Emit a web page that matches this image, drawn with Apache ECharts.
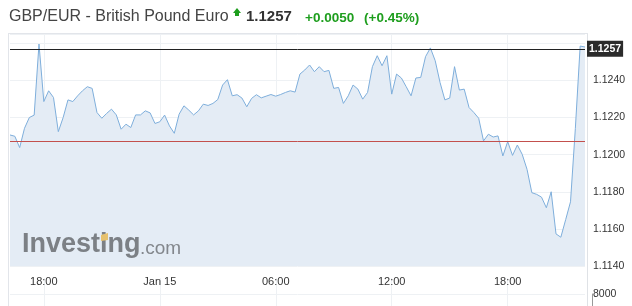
<!DOCTYPE html>
<html><head><meta charset="utf-8">
<script src="https://cdn.jsdelivr.net/npm/echarts@6/dist/echarts.min.js"></script>
<style>html,body{margin:0;padding:0;background:#fff}#c{width:632px;height:306px}</style>
</head><body><div id="c"></div>
<script>
// ---- data ----
const title = 'GBP/EUR - British Pound Euro';
const lastText = '1.1257';
const changeText = '+0.0050';
const changePctText = '(+0.45%)';
const lastPrice = 1.1257;
const prevClose = 1.1207;

// 15-minute bars, Jan 14 16:15 -> Jan 15 22:00
const categories = [];
(function(){
  let day = 'Jan 14', h = 16, m = 15;
  for (let i = 0; i < 120; i++) {
    categories.push(day + ' ' + String(h).padStart(2,'0') + ':' + String(m).padStart(2,'0'));
    m += 15; if (m === 60) { m = 0; h += 1; if (h === 24) { h = 0; day = 'Jan 15'; } }
  }
})();

const prices = [
  1.12106,1.12099,1.12038,1.12142,1.12200,1.12213,1.12596,1.12286,1.12344,1.12308,
  1.12124,1.12200,1.12295,1.12286,1.12317,1.12344,1.12366,1.12357,1.12227,1.12196,
  1.12222,1.12245,1.12214,1.12137,1.12164,1.12146,1.12214,1.12214,1.12236,1.12225,
  1.12168,1.12177,1.12213,1.12155,1.12115,1.12218,1.12263,1.12240,1.12214,1.12236,
  1.12272,1.12265,1.12276,1.12297,1.12375,1.12404,1.12317,1.12323,1.12305,1.12258,
  1.12303,1.12323,1.12306,1.12315,1.12324,1.12315,1.12324,1.12335,1.12344,1.12337,
  1.12434,1.12456,1.12483,1.12447,1.12474,1.12447,1.12454,1.12357,1.12362,1.12276,
  1.12317,1.12375,1.12353,1.12299,1.12335,1.12474,1.12533,1.12479,1.12533,1.12326,
  1.12434,1.12413,1.12366,1.12317,1.12413,1.12416,1.12528,1.12575,1.12506,1.12389,
  1.12295,1.12305,1.12474,1.12348,1.12353,1.12254,1.12227,1.12196,1.12074,1.12110,
  1.12095,1.12101,1.11993,1.12070,1.11996,1.12052,1.12002,1.11921,1.11795,1.11786,
  1.11771,1.11714,1.11800,1.11573,1.11555,1.11650,1.11746,1.12140,1.12585,1.12580
];

const yMin = 1.1140, yMax = 1.1265, yStep = 0.002;
const volMax = 8000;

// ---- chart ----
const isMajor = (idx, val) => {
  const t = val.slice(-5);
  return t.endsWith(':00') && ['00','06','12','18'].includes(t.slice(0,2));
};
const fmtX = val => { const t = val.slice(-5); return t === '00:00' ? val.slice(0,6) : t; };
const gridCol = '#eef1f4';
const FONT = 'Liberation Sans, Arial, sans-serif';

const chart = echarts.init(document.getElementById('c'), null, {renderer:'canvas'});
chart.setOption({
  animation: false,
  textStyle: {fontFamily: FONT},
  grid: [
    {left: 10, width: 575, top: 34, height: 232},
    {left: 10, width: 575, top: 294, height: 40}
  ],
  xAxis: [
    {type:'category', gridIndex:0, data: categories, boundaryGap:false,
     axisLine:{show:false}, axisTick:{show:false},
     axisLabel:{interval:isMajor, formatter:fmtX, color:'#333', fontSize:11, margin:10, fontFamily:FONT},
     splitLine:{show:true, interval:isMajor, lineStyle:{color:gridCol}}},
    {type:'category', gridIndex:1, data: categories, boundaryGap:false, position:'top',
     axisLine:{show:false}, axisLabel:{show:false},
     axisTick:{show:true, inside:false, length:28, interval:isMajor, lineStyle:{color:gridCol}},
     splitLine:{show:true, interval:isMajor, lineStyle:{color:gridCol}}}
  ],
  yAxis: [
    {type:'value', gridIndex:0, position:'right', min:yMin, max:yMax, interval:yStep,
     axisLine:{show:false}, axisTick:{show:false},
     axisLabel:{color:'#333', fontSize:10.5, margin:8, fontFamily:FONT,
       showMaxLabel:false, formatter: v => v > 1.1255 ? '' : v.toFixed(4)},
     splitLine:{show:true, lineStyle:{color:gridCol}}},
    {type:'value', gridIndex:1, position:'right', min:0, max:volMax, interval:volMax, offset:7,
     axisLine:{show:true, lineStyle:{color:'#999'}}, axisTick:{show:false},
     axisLabel:{color:'#333', fontSize:10.5, margin:1, fontFamily:FONT,
       formatter: v => v === volMax ? String(volMax) : ''},
     splitLine:{show:true, lineStyle:{color:gridCol}}}
  ],
  series: [{
    type:'line', xAxisIndex:0, yAxisIndex:0, data: prices, symbol:'none',
    lineStyle:{color:'#7eaedb', width:1}, areaStyle:{color:'#e4ecf5', opacity:1, origin:'start'},
    z: 3,
    markLine: {
      silent:true, symbol:['none','none'], animation:false, precision:5,
      data: [
        {yAxis: prevClose, lineStyle:{color:'#c3504d', width:1, type:'solid'}, label:{show:false}},
        {yAxis: lastPrice, lineStyle:{color:'#222', width:1, type:'solid'},
         label:{show:true, position:'end', distance:2, formatter: lastText,
           color:'#fff', backgroundColor:'#2b2b2b', fontWeight:'bold', fontSize:10.5,
           padding:[3,2,2,2], fontFamily:FONT}}
      ]
    }
  }],
  graphic: [
    // frame
    {type:'line', shape:{x1:8.5,y1:34,x2:8.5,y2:306}, style:{stroke:'#e2e5ea', lineWidth:1}, z:0},
    {type:'line', shape:{x1:8,y1:33.5,x2:588,y2:33.5}, style:{stroke:'#e2e5ea', lineWidth:1}, z:0},
    {type:'line', shape:{x1:587.5,y1:34,x2:587.5,y2:306}, style:{stroke:'#dfe2e6', lineWidth:1}, z:0},
    // header
    {type:'text', left:9, top:9, style:{text:title, fill:'#444', font:'16px '+FONT}},
    {type:'polygon', shape:{points:[[233,13],[237,8],[241,13],[239,13],[239,16],[235,16],[235,13]]}, style:{fill:'#1e9e1e'}},
    {type:'text', left:246, top:9, style:{text:lastText, fill:'#333', font:'bold 15px '+FONT}},
    {type:'text', left:305, top:11, style:{text:changeText, fill:'#1e9e1e', font:'bold 13.5px '+FONT}},
    {type:'text', left:364, top:11, style:{text:changePctText, fill:'#1e9e1e', font:'bold 13.5px '+FONT}},
    // watermark
    {type:'text', left:22, top:231, z:4, style:{text:'Investing', fill:'#7c8085', font:'bold 27px '+FONT}},
    {type:'text', left:140, top:239, z:4, style:{text:'.com', fill:'#83878c', font:'19px '+FONT}},
    {type:'polygon', z:5, shape:{points:[[101,235],[108,233],[108,240],[101,241]]}, style:{fill:'#e6c16e'}}
  ]
});
</script></body></html>
